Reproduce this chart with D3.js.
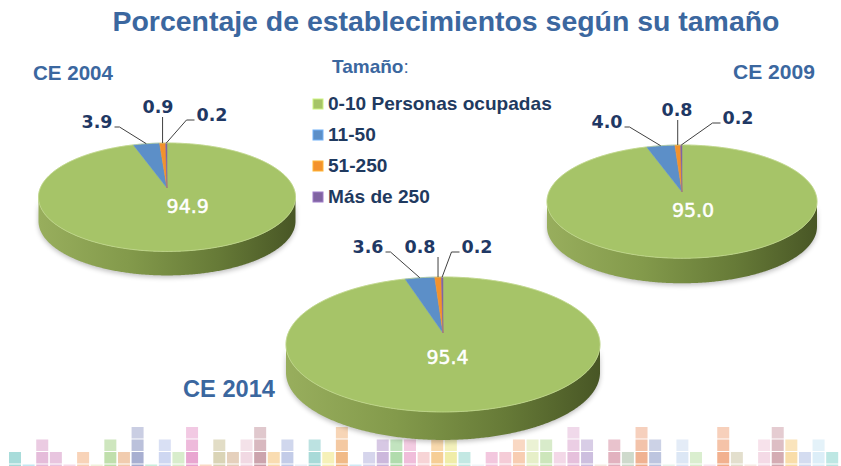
<!DOCTYPE html>
<html>
<head>
<meta charset="utf-8">
<script src="https://cdn.jsdelivr.net/npm/d3@7"></script>
<style>
  body { margin: 0; background: #fff; }
  svg { display: block; }
</style>
</head>
<body>
<script>
// data
const categories = ["0-10 Personas ocupadas", "11-50", "51-250", "Más de 250"];
const censusYears = ["CE 2004", "CE 2009", "CE 2014"];
const shares2004 = [94.9, 3.9, 0.9, 0.2];
const shares2009 = [95.0, 4.0, 0.8, 0.2];
const shares2014 = [95.4, 3.6, 0.8, 0.2];
const sliceColors = ["#a6c468", "#5c8fc8", "#f3922c", "#8064a2"];

// decorative mosaic strip at the bottom (rows stacked above the base row)
const mosaicRows = [1,0,2,1,0,1,0,2,1,3,0,2,1,3,0,2,1,2,3,1,
                    2,0,2,1,3,0,1,2,2,2,1,2,2,1,0,1,1,2,2,2,
                    1,3,2,0,2,1,3,2,0,2,1,0,3,1,0,2,3,2,1,2,1];
const mosaicColors = ["#9fd8d6","#bfe6f0","#e2b5d6","#e6bfdc","#f3d7e6","#f7ceb0","#eef0d8","#b9dca3","#f0c6a6","#9ea6cc",
                      "#c6ecd9","#c9d3ef","#d4ebc6","#e79ccc","#f9d6c0","#d6cfae","#e2cbb5","#f0d5e0","#c79aa4","#f8d8a8",
                      "#bcc6e6","#e8eef6","#9fd6d4","#f5efb0","#f0b27a","#cbe8f3","#d2d0ea","#c6b0d8","#a8d8a4","#eeb6d6",
                      "#f6cfd2","#f5c98a","#eeeb9e","#bde6e0","#eef3f7","#f2c1da","#f4c7d3","#f7c8aa","#e3edc2","#c8e3b4",
                      "#f2d4e4","#e3b9d8","#c8b8dc","#f1e8de","#dfaab8","#c9d6c6","#eeaa86","#b6bfdc","#e5f2ea","#d8e4f4",
                      "#d6ecca","#f4e4ee","#f1a983","#e0dcc8","#f4e8e0","#f3d6e3","#cfa3ab","#f8d9a0","#cfd8ee","#d8ecf7",
                      "#b6e4e0"];

const W = 841, H = 466;
const K = 0.17; // perspective factor

const svg = d3.select("body").append("svg")
  .attr("width", W)
  .attr("height", H)
  .style("font-family", "'Liberation Sans', Arial, sans-serif");

const defs = svg.append("defs");

// ---- mosaic ----
const mx = d3.scaleLinear().domain([0, 1]).range([9, 9 + 13.62]);
const rowY = [464.5, 452, 439.5, 427];
const rowOpacity = [0.95, 0.9, 0.7, 0.55];
const cells = [];
mosaicRows.forEach((n, i) => {
  for (let r = 0; r <= n; r++) cells.push({ i, r, c: mosaicColors[i] });
});
svg.append("g").selectAll("rect")
  .data(cells)
  .join("rect")
  .attr("x", d => mx(d.i))
  .attr("y", d => rowY[d.r])
  .attr("width", 12)
  .attr("height", 11.5)
  .attr("fill", d => d.c)
  .attr("opacity", d => rowOpacity[d.r]);

// ---- title ----
const fitText = (sel, width) => {
  const w = sel.node().getComputedTextLength();
  const fs = parseFloat(sel.attr("font-size"));
  sel.attr("font-size", fs * width / w);
};

const title = svg.append("text")
  .attr("x", 446)
  .attr("y", 31)
  .attr("text-anchor", "middle")
  .attr("font-size", 27)
  .attr("font-weight", "bold")
  .attr("fill", "#3b679f")
  .text("Porcentaje de establecimientos según su tamaño");
fitText(title, 667);

// ---- legend ----
svg.append("text")
  .attr("x", 332)
  .attr("y", 73)
  .attr("font-size", 19)
  .attr("font-weight", "bold")
  .attr("fill", "#3b679f")
  .text("Tamaño")
  .append("tspan")
  .attr("font-weight", "normal")
  .text(":");

const legend = svg.append("g").attr("transform", "translate(313,0)");
const ly = d3.scaleLinear().domain([0, 1]).range([110, 141]);
const items = legend.selectAll("g")
  .data(categories)
  .join("g")
  .attr("transform", (d, i) => `translate(0,${ly(i)})`);
items.append("rect")
  .attr("x", 0)
  .attr("y", -11)
  .attr("width", 10)
  .attr("height", 10)
  .attr("fill", (d, i) => sliceColors[i])
  .attr("stroke", (d, i) => d3.color(sliceColors[i]).brighter(0.6))
  .attr("stroke-width", 1);
items.append("text")
  .attr("x", 15)
  .attr("y", 0)
  .attr("font-size", 16.5)
  .attr("font-weight", "bold")
  .attr("fill", "#1f3a60")
  .text(d => d);
fitText(items.select("text").filter((d, i) => i === 0), 224);
const legendFs = items.select("text").attr("font-size");
items.selectAll("text").attr("font-size", legendFs);

// ---- pies ----
const pies = [
  { year: censusYears[0], values: shares2004, cx: 167, cy: 188, hw: 128.5, up: 45, depth: 24,
    yearPos: [33, 80], yearWidth: 80, mainNudge: [14, 0],
    labelPos: [[-70, -66, "left"], [-9, -81, "up"], [45, -73, "right"]] },
  { year: censusYears[1], values: shares2009, cx: 682, cy: 192, hw: 135, up: 47, depth: 25,
    yearPos: [733, 79], yearWidth: 82, mainNudge: [4, 0],
    labelPos: [[-75, -70, "left"], [-5, -82, "up"], [56, -74, "right"]] },
  { year: censusYears[2], values: shares2014, cx: 443, cy: 333, hw: 157, up: 56, depth: 28,
    yearPos: [183, 397], yearWidth: 92, mainNudge: [-3, 2],
    labelPos: [[-75, -86, "left"], [-23, -86, "up"], [34, -86, "right"]] }
];

const shadow = defs.append("filter").attr("id", "shadow")
  .attr("x", "-10%").attr("y", "-10%").attr("width", "120%").attr("height", "140%");
shadow.append("feGaussianBlur").attr("stdDeviation", 2.5);

const pieGen = d3.pie().sort(null).value(d => d);
const line = d3.line();

pies.forEach((p, pi) => {
  p.bx = p.hw * Math.sqrt(1 - K * K);
  p.ay = p.up * (1 + K);
  const proj = (t, r) => {
    const u = r * Math.sin(t), v = -r * Math.cos(t);
    const s = 1 / (1 - K * v);
    return [p.cx + p.bx * u * s, p.cy + p.ay * v * s];
  };

  const g = svg.append("g");

  // side gradient
  const gid = "side" + pi;
  const grad = defs.append("linearGradient").attr("id", gid)
    .attr("gradientUnits", "userSpaceOnUse")
    .attr("x1", p.cx - p.hw).attr("x2", p.cx + p.hw)
    .attr("y1", 0).attr("y2", 0);
  grad.append("stop").attr("offset", 0).attr("stop-color", "#98ae5d");
  grad.append("stop").attr("offset", 0.35).attr("stop-color", "#839a4b");
  grad.append("stop").attr("offset", 0.7).attr("stop-color", "#667a37");
  grad.append("stop").attr("offset", 1).attr("stop-color", "#485625");

  // silhouette of front side
  const N = 720;
  const ring = d3.range(N + 1).map(i => i / N * 2 * Math.PI);
  const pts = ring.map(t => proj(t, 1));
  const iR = d3.maxIndex(pts, d => d[0]);
  const iL = d3.minIndex(pts, d => d[0]);
  const top = pts.slice(iR, iL + 1);
  const bottom = top.map(d => [d[0], d[1] + p.depth]).reverse();

  // soft shadow
  g.append("path")
    .attr("d", line(top.concat(bottom).map(d => [d[0], d[1] + 2])) + "Z")
    .attr("fill", "#000")
    .attr("opacity", 0.25)
    .attr("filter", "url(#shadow)");

  g.append("path")
    .attr("d", line(top.concat(bottom)) + "Z")
    .attr("fill", `url(#${gid})`);

  // top face slices
  const arcs = pieGen(p.values);
  g.selectAll("path.slice")
    .data(arcs)
    .join("path")
    .attr("class", "slice")
    .attr("d", a => {
      const n = Math.max(2, Math.ceil((a.endAngle - a.startAngle) / 0.01));
      const arcPts = d3.range(n + 1).map(i => proj(a.startAngle + (a.endAngle - a.startAngle) * i / n, 1));
      return line([[p.cx, p.cy]].concat(arcPts)) + "Z";
    })
    .attr("fill", (a, i) => sliceColors[i])
    .attr("stroke", (a, i) => sliceColors[i])
    .attr("stroke-width", 0.5);

  // light rim
  g.append("path")
    .attr("d", line(pts) + "Z")
    .attr("fill", "none")
    .attr("stroke", "#c4da92")
    .attr("stroke-width", 1)
    .attr("opacity", 0.7);

  // big slice label
  const a0 = arcs[0];
  const mid0 = (a0.startAngle + a0.endAngle) / 2;
  const c0 = proj(mid0, 0.32);
  g.append("text")
    .attr("x", c0[0] + p.mainNudge[0])
    .attr("y", c0[1] + p.mainNudge[1] + 7)
    .attr("text-anchor", "middle")
    .attr("font-family", "'DejaVu Sans', Verdana, sans-serif")
    .attr("font-size", 19)
    .attr("fill", "#fff")
    .attr("stroke", "#fff")
    .attr("stroke-width", 0.5)
    .text(d3.format(".1f")(p.values[0]));

  // small slice labels with leader lines
  arcs.slice(1).forEach((a, j) => {
    const [dx, dy, side] = p.labelPos[j];
    const mid = (a.startAngle + a.endAngle) / 2;
    const edge = proj(mid, 1);
    const tx = p.cx + dx, ty = p.cy + dy;
    const t = g.append("text")
      .attr("x", tx)
      .attr("y", ty + 6)
      .attr("text-anchor", "middle")
      .attr("font-family", "'DejaVu Sans', Verdana, sans-serif")
      .attr("font-size", 17.5)
      .attr("font-weight", "bold")
      .attr("fill", "#1f3864")
      .text(d3.format(".1f")(a.data));
    const bb = t.node().getBBox();
    let path;
    if (side === "left") {
      const y0 = ty + 5;
      path = [[bb.x + bb.width + 2, y0], [bb.x + bb.width + 7, y0], edge];
    } else if (side === "right") {
      const y0 = ty + 5;
      path = [[bb.x - 2, y0], [bb.x - 10, y0], edge];
    } else {
      path = [[edge[0], ty + 10], edge];
    }
    g.append("path")
      .attr("d", line(path))
      .attr("fill", "none")
      .attr("stroke", "#404040")
      .attr("stroke-width", 1);
  });

  // census year caption
  const yt = svg.append("text")
    .attr("x", p.yearPos[0])
    .attr("y", p.yearPos[1])
    .attr("font-size", 20)
    .attr("font-weight", "bold")
    .attr("fill", "#3b679f")
    .text(p.year);
  fitText(yt, p.yearWidth);
});
</script>
</body>
</html>
